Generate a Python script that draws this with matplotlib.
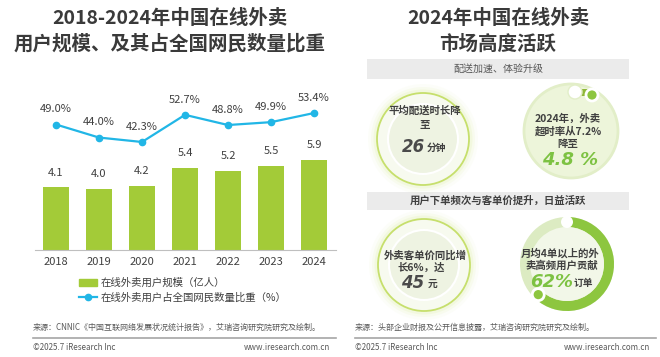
import math
import matplotlib.pyplot as plt
from matplotlib.patches import Circle, Wedge, Rectangle, Patch
from matplotlib.lines import Line2D

plt.rcParams['font.family'] = ['Noto Sans CJK SC', 'DejaVu Sans']

# 左图数据
years = ['2018', '2019', '2020', '2021', '2022', '2023', '2024']
users = [4.1, 4.0, 4.2, 5.4, 5.2, 5.5, 5.9]            # 亿人
share = [49.0, 44.0, 42.3, 52.7, 48.8, 49.9, 53.4]     # %
bar_label = '在线外卖用户规模（亿人）'
line_label = '在线外卖用户占全国网民数量比重（%）'

# 右图数据
delivery_minutes = 26
overtime_from = 7.2
overtime_to = 4.8
price_growth = 6
order_price = 45
high_freq_share = 62

GREEN = '#A3CB38'
BLUE = '#21B6E6'
DARK = '#404040'
GRAY = '#595959'
LIGHT_GREEN = '#7DC242'

W, H = 660, 357
fig = plt.figure(figsize=(6.6, 3.57), dpi=100)

# 整张图的像素坐标底板
bg = fig.add_axes([0, 0, 1, 1])
bg.set_xlim(0, W)
bg.set_ylim(H, 0)
bg.axis('off')


def txt(x, y, s, size, color=DARK, ha='center', **kw):
    bg.text(x, y, s, fontsize=size, color=color, ha=ha, va='center', **kw)


# ---------------- 左侧：柱状 + 折线 ----------------
txt(170, 19, '2018-2024年中国在线外卖', 14, color='#3A3A3A', weight='heavy')
txt(170, 44, '用户规模、及其占全国网民数量比重', 14, color='#3A3A3A', weight='heavy')

ax = fig.add_axes([34.5 / W, 1 - 250 / H, 301 / W, 152.5 / H])
x = range(len(years))
ax.bar(x, users, width=0.6, color=GREEN, zorder=2)
ax.set_xlim(-0.5, len(years) - 0.5)
ax.set_ylim(0, 10)
for i, v in enumerate(users):
    ax.text(i, v + 0.98, f'{v:.1f}', ha='center', va='center', fontsize=8, color=DARK)
ax.set_xticks(list(x))
ax.set_xticklabels(years, fontsize=8, color=DARK)
ax.tick_params(axis='x', length=0, pad=5)
ax.set_yticks([])
for s in ['top', 'left', 'right']:
    ax.spines[s].set_visible(False)
ax.spines['bottom'].set_color('#BFBFBF')
ax.patch.set_visible(False)

ax2 = ax.twinx()
ax2.plot(x, share, color=BLUE, lw=1.6, marker='o', ms=4.5, zorder=3)
ax2.set_ylim(0.9, 59.35)
ax2.set_yticks([])
for s in ax2.spines.values():
    s.set_visible(False)
for i, v in enumerate(share):
    ax2.annotate(f'{v:.1f}%', (i, v), xytext=(0, 11), textcoords='offset points',
                 ha='center', va='center', fontsize=8, color=DARK)

handles = [Patch(color=GREEN),
           Line2D([], [], color=BLUE, lw=1.6, marker='o', ms=4.5)]
fig.legend(handles, [bar_label, line_label], loc='upper left',
           bbox_to_anchor=(79 / W, 1 - 278 / H), frameon=False, fontsize=7.5,
           handlelength=1.75, handleheight=0.7, handletextpad=0.3,
           labelspacing=0.45, borderpad=0, borderaxespad=0, labelcolor=DARK)

txt(33, 327, '来源：CNNIC《中国互联网络发展状况统计报告》，艾瑞咨询研究院研究及绘制。', 5.8,
    color=GRAY, ha='left')
bg.plot([33, 336], [338, 338], color='#A6A6A6', lw=1.2)
txt(33, 347, '©2025.7 iResearch Inc', 5.8, color=GRAY, ha='left')
txt(330, 347, 'www.iresearch.com.cn', 5.8, color=GRAY, ha='right')

# ---------------- 右侧：市场活跃度 ----------------
txt(498, 19, '2024年中国在线外卖', 14, color='#3A3A3A', weight='heavy')
txt(498, 44, '市场高度活跃', 14, color='#3A3A3A', weight='heavy')

bg.add_patch(Rectangle((367, 59), 262, 20, fc='#EBEBEB', ec='none'))
txt(498, 69, '配送加速、体验升级', 7.2, color=GRAY)
bg.add_patch(Rectangle((367, 192), 262, 18, fc='#EBEBEB', ec='none'))
txt(498, 201, '用户下单频次与客单价提升，日益活跃', 7.5, weight='bold')


def glow_circle(cx, cy):
    for r, a in [(55, 0.05), (52, 0.09), (49.5, 0.14)]:
        bg.add_patch(Circle((cx, cy), r, fc='#D3E88A', ec='none', alpha=a))
    bg.add_patch(Circle((cx, cy), 46, fc='#F7FAEF', ec='#C6DF6C', lw=1.3))
    bg.add_patch(Circle((cx, cy), 35, fc='#EEF3E2', ec='white', lw=1.5))


# 平均配送时长
glow_circle(423, 139)
txt(425, 111, '平均配送时长降', 7.5, weight='bold')
txt(425, 125, '至', 7.5, weight='bold')
txt(413, 147, f'{delivery_minutes}', 12, color='#4A4A4A', weight='bold',
    style='italic', family=['DejaVu Sans'])
txt(436, 148, '分钟', 7, weight='bold')

# 超时率
bg.add_patch(Circle((571, 131), 47, fc='#EDF5DA', ec='#E2EEC8', lw=2))
bg.add_patch(Rectangle((578, 89), 11, 7, fc='#8FB83A', ec='none'))
bg.add_patch(Circle((575, 92), 7, fc='white', ec='#E2EEC8', lw=1))
bg.add_patch(Circle((592, 95), 6, fc='#8DC63F', ec='white', lw=2))
txt(568, 119, '2024年，外卖', 7.5, weight='bold')
txt(568, 132, f'超时率从{overtime_from}%', 7.5, weight='bold')
txt(568, 144, '降至', 7.5, weight='bold')
txt(570, 160, f'{overtime_to} %', 13, color=LIGHT_GREEN, weight='bold',
    style='italic', family=['DejaVu Sans'])

# 客单价
glow_circle(424, 265)
txt(425, 255, '外卖客单价同比增', 7.5, weight='bold')
txt(421, 268, f'长{price_growth}%，达', 7.5, weight='bold')
txt(413, 283, f'{order_price}', 12, color='#4A4A4A', weight='bold',
    style='italic', family=['DejaVu Sans'])
txt(433, 284, '元', 7, weight='bold')

# 高频用户订单贡献
cx, cy = 567, 264
end = -90 + 360 * high_freq_share / 100
bg.add_patch(Circle((cx, cy), 47, fc='#DCEBC2', ec='none'))
bg.add_patch(Wedge((cx, cy), 47, -90, end, width=10, fc='#8DC63F', ec='none'))
bg.add_patch(Circle((cx, cy), 37, fc='#F2F7E8', ec='none'))
bg.add_patch(Circle((cx, cy - 42), 6, fc='white', ec='none'))
ex = cx + 42 * math.cos(math.radians(end))
ey = cy + 42 * math.sin(math.radians(end))
bg.add_patch(Circle((ex, ey), 6, fc='#8DC63F', ec='white', lw=2))
txt(560, 253, '月均4单以上的外', 7.5, weight='bold')
txt(562, 266, '卖高频用户贡献', 7.5, weight='bold')
txt(552, 282, f'{high_freq_share}%', 13, color=LIGHT_GREEN, weight='bold',
    style='italic', family=['DejaVu Sans'])
txt(583, 283, '订单', 7, weight='bold')

txt(355, 327, '来源：头部企业财报及公开信息披露，艾瑞咨询研究院研究及绘制。', 5.8,
    color=GRAY, ha='left')
bg.plot([355, 656], [338, 338], color='#A6A6A6', lw=1.2)
txt(355, 347, '©2025.7 iResearch Inc', 5.8, color=GRAY, ha='left')
txt(650, 347, 'www.iresearch.com.cn', 5.8, color=GRAY, ha='right')

fig.savefig('out.png', dpi=100)
